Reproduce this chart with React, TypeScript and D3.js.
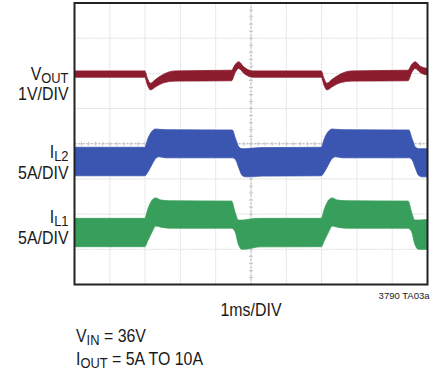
import React from "react";
import * as d3 from "d3";

// time axis in ms (10 divisions, 1ms/DIV), vertical axis in divisions (8)
const vTime = [0, 1.99, 2.07, 2.15, 2.3, 2.55, 2.85, 4.45, 4.55, 4.65, 4.8, 5.05, 6.99, 7.07, 7.15, 7.3, 7.55, 7.85, 9.45, 9.55, 9.65, 9.8, 10];
const vUpper = [6.07, 6.07, 5.85, 5.72, 5.83, 5.99, 6.07, 6.09, 6.25, 6.33, 6.18, 6.07, 6.07, 5.85, 5.72, 5.83, 5.99, 6.07, 6.09, 6.25, 6.33, 6.2, 6.14];
const vLower = [5.89, 5.89, 5.66, 5.53, 5.62, 5.74, 5.78, 5.79, 6.02, 6.14, 6.0, 5.89, 5.89, 5.66, 5.53, 5.62, 5.74, 5.78, 5.79, 6.02, 6.14, 6.02, 5.95];

const il2Time = [0, 1.99, 2.08, 2.2, 2.3, 2.4, 2.6, 4.47, 4.56, 4.66, 4.75, 4.85, 5.0, 5.3, 6.99, 7.08, 7.2, 7.3, 7.4, 7.6, 9.47, 9.56, 9.66, 9.75, 9.85, 10];
const il2Upper = [3.9, 3.9, 4.15, 4.36, 4.42, 4.41, 4.4, 4.39, 4.15, 3.9, 3.86, 3.86, 3.87, 3.89, 3.9, 4.15, 4.36, 4.42, 4.41, 4.4, 4.39, 4.15, 3.9, 3.86, 3.86, 3.86];
const il2Lower = [3.09, 3.09, 3.2, 3.42, 3.58, 3.63, 3.6, 3.6, 3.55, 3.3, 3.1, 3.06, 3.06, 3.08, 3.09, 3.2, 3.42, 3.58, 3.63, 3.6, 3.6, 3.55, 3.3, 3.1, 3.06, 3.06];

const il1Time = [0, 1.99, 2.08, 2.2, 2.3, 2.45, 2.7, 4.45, 4.55, 4.64, 4.74, 4.9, 5.25, 6.99, 7.08, 7.2, 7.3, 7.45, 7.7, 9.45, 9.55, 9.64, 9.74, 9.9, 10];
const il1Upper = [1.88, 1.88, 2.15, 2.4, 2.46, 2.4, 2.38, 2.37, 2.05, 1.83, 1.83, 1.85, 1.88, 1.88, 2.15, 2.4, 2.46, 2.4, 2.38, 2.37, 2.05, 1.83, 1.83, 1.84, 1.85];
const il1Lower = [1.075, 1.075, 1.25, 1.5, 1.66, 1.63, 1.6, 1.6, 1.5, 1.15, 1.0, 1.01, 1.07, 1.075, 1.25, 1.5, 1.66, 1.63, 1.6, 1.6, 1.5, 1.15, 1.0, 1.0, 1.0];

const xDivs = d3.range(0, 11);
const yDivs = d3.range(0, 9);

const W = 440;
const H = 373;
const FONT = "'Liberation Sans', Arial, Helvetica, sans-serif";
const SX = 0.86;
const SUB = 15;

export default function App() {
  const x = d3.scaleLinear().domain([0, 10]).range([74.5, 427.5]);
  const y = d3.scaleLinear().domain([0, 8]).range([284.5, 3]);

  const band = (t: number[], up: number[], lo: number[]) =>
    d3
      .area<number>()
      .x((i) => x(t[i]))
      .y0((i) => y(lo[i]))
      .y1((i) => y(up[i]))
      .curve(d3.curveMonotoneX)(d3.range(t.length)) as string;

  const traces = [
    { t: vTime, up: vUpper, lo: vLower, color: "#8c1d2e" },
    { t: il2Time, up: il2Upper, lo: il2Lower, color: "#3a56b0" },
    { t: il1Time, up: il1Upper, lo: il1Lower, color: "#389e5b" },
  ];

  const minorX = d3.range(0, 50.01, 1).map((k) => k / 5);
  const minorY = d3.range(0, 40.01, 1).map((k) => k / 5);

  const label = (xp: number, yp: number, main: string, sub: string | null, size = 18.5) => (
    <text
      transform={`translate(${xp},${yp}) scale(${SX},1)`}
      textAnchor="end"
      fontFamily={FONT}
      fontSize={size}
      fill="#1a1a1a"
    >
      {main}
      {sub && (
        <tspan fontSize={SUB} dy={3}>
          {sub}
        </tspan>
      )}
    </text>
  );

  return (
    <svg width={W} height={H} style={{ position: "absolute", left: 0, top: 0 }}>
      <rect x={0} y={0} width={W} height={H} fill="#fff" />
      {/* grid */}
      {xDivs.map((d) => (
        <line key={"gx" + d} x1={x(d)} x2={x(d)} y1={y(0)} y2={y(8)} stroke="#dcdcdc" strokeWidth={1} strokeDasharray="2,1" />
      ))}
      {yDivs.map((d) => (
        <line key={"gy" + d} x1={x(0)} x2={x(10)} y1={y(d)} y2={y(d)} stroke="#dcdcdc" strokeWidth={1} strokeDasharray="2,1" />
      ))}
      {/* center axes */}
      <line x1={x(5)} x2={x(5)} y1={y(0)} y2={y(8)} stroke="#b0b0b0" strokeWidth={1} strokeDasharray="2,2" />
      <line x1={x(0)} x2={x(10)} y1={y(4)} y2={y(4)} stroke="#b0b0b0" strokeWidth={1} strokeDasharray="2,2" />
      {minorY.map((d, i) => (
        <line key={"ty" + i} x1={x(5) - 2} x2={x(5) + 2} y1={y(d)} y2={y(d)} stroke="#c4c4c4" strokeWidth={1} />
      ))}
      {minorX.map((d, i) => (
        <line key={"tx" + i} x1={x(d)} x2={x(d)} y1={y(4) - 2} y2={y(4) + 2} stroke="#c4c4c4" strokeWidth={1} />
      ))}
      {/* traces */}
      {traces.map((tr, i) => (
        <path key={"tr" + i} d={band(tr.t, tr.up, tr.lo)} fill={tr.color} stroke={tr.color} strokeWidth={0.8} strokeLinejoin="round" />
      ))}
      {/* frame */}
      <rect x={x(0)} y={y(8)} width={x(10) - x(0)} height={y(0) - y(8)} fill="none" stroke="#222" strokeWidth={2} />
      {/* left labels */}
      {label(68.5, 79.5, "V", "OUT")}
      {label(68.5, 100, "1V/DIV", null)}
      {label(68.5, 158, "I", "L2")}
      {label(68.5, 178.5, "5A/DIV", null)}
      {label(68.5, 223, "I", "L1")}
      {label(68.5, 243.5, "5A/DIV", null)}
      {/* bottom */}
      <text
        transform={`translate(${x(5)},316) scale(${SX},1)`}
        textAnchor="middle"
        fontFamily={FONT}
        fontSize={18.5}
        fill="#1a1a1a"
      >
        1ms/DIV
      </text>
      <text x={429.5} y={298.5} textAnchor="end" fontFamily={FONT} fontSize={9.5} fill="#1a1a1a">
        3790 TA03a
      </text>
      <text transform={`translate(76,341.5) scale(${SX},1)`} fontFamily={FONT} fontSize={18.5} fill="#1a1a1a">
        V<tspan fontSize={SUB} dy={3}>IN</tspan>
        <tspan dy={-3}> = 36V</tspan>
      </text>
      <text transform={`translate(76,365) scale(${SX},1)`} fontFamily={FONT} fontSize={18.5} fill="#1a1a1a">
        I<tspan fontSize={SUB} dy={3}>OUT</tspan>
        <tspan dy={-3}> = 5A TO 10A</tspan>
      </text>
    </svg>
  );
}
